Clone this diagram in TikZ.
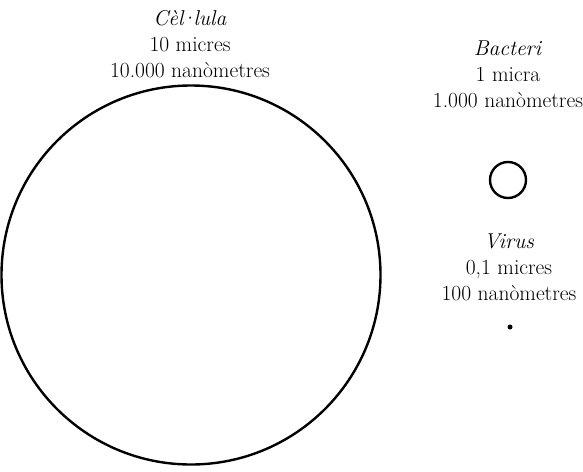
\documentclass[tikz,border=0pt]{standalone}
\begin{document}
\begin{tikzpicture}[x=1pt,y=-1pt,
  lbl/.style={align=center,inner sep=0pt,font=\fontsize{21.5}{26}\selectfont},
  ring/.style={draw=black,line width=2.4pt}]
\useasboundingbox[fill=white] (0,0) rectangle (583,471);
% Cell
\node[lbl,anchor=base] (celltxt) at (190,77) {\textit{Cèl\kern-0.14em·\kern-0.14em lula}\\10 micres\\10.000 nanòmetres};
\node[ring,circle,minimum size=379pt,inner sep=0pt] (cell) at (191,275) {};
% Bacterium
\node[lbl,anchor=base] (bacttxt) at (508,107) {\textit{Bacteri}\\1 micra\\1.000 nanòmetres};
\node[ring,circle,minimum size=36pt,inner sep=0pt] (bact) at (508,180) {};
% Virus
\node[lbl,anchor=base] (virtxt) at (509,300) {\textit{Virus}\\0,1 micres\\100 nanòmetres};
\node[circle,fill=black,minimum size=5pt,inner sep=0pt] (vir) at (510,327) {};
\end{tikzpicture}
\end{document}
